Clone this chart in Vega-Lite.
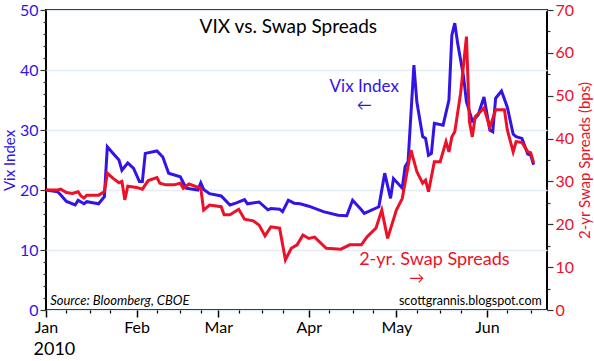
{
  "$schema": "https://vega.github.io/schema/vega-lite/v6.json",
  "width": 501,
  "height": 300,
  "autosize": {"type": "none"},
  "padding": {"left": 46, "top": 10, "right": 47, "bottom": 51},
  "background": "white",
  "config": {
    "font": "Lato",
    "view": {"stroke": "black", "strokeWidth": 2}
  },
  "datasets": {
    "vix": [
      {"date": "2010-01-01", "vix": 20.0},
      {"date": "2010-01-05", "vix": 19.7},
      {"date": "2010-01-06", "vix": 19.2},
      {"date": "2010-01-08", "vix": 18.1},
      {"date": "2010-01-11", "vix": 17.5},
      {"date": "2010-01-12", "vix": 18.3},
      {"date": "2010-01-14", "vix": 17.7},
      {"date": "2010-01-15", "vix": 18.05},
      {"date": "2010-01-18", "vix": 17.8},
      {"date": "2010-01-19", "vix": 17.7},
      {"date": "2010-01-21", "vix": 18.9},
      {"date": "2010-01-22", "vix": 27.2},
      {"date": "2010-01-24", "vix": 26.1},
      {"date": "2010-01-26", "vix": 25.0},
      {"date": "2010-01-27", "vix": 23.3},
      {"date": "2010-01-29", "vix": 24.5},
      {"date": "2010-01-31", "vix": 23.6},
      {"date": "2010-02-02", "vix": 21.4},
      {"date": "2010-02-03", "vix": 21.4},
      {"date": "2010-02-04", "vix": 26.1},
      {"date": "2010-02-08", "vix": 26.5},
      {"date": "2010-02-10", "vix": 25.5},
      {"date": "2010-02-12", "vix": 22.8},
      {"date": "2010-02-16", "vix": 22.2},
      {"date": "2010-02-18", "vix": 20.3},
      {"date": "2010-02-22", "vix": 20.0},
      {"date": "2010-02-23", "vix": 21.2},
      {"date": "2010-02-24", "vix": 20.1},
      {"date": "2010-02-26", "vix": 19.4},
      {"date": "2010-03-02", "vix": 19.0},
      {"date": "2010-03-05", "vix": 17.5},
      {"date": "2010-03-07", "vix": 17.8},
      {"date": "2010-03-10", "vix": 18.4},
      {"date": "2010-03-11", "vix": 17.7},
      {"date": "2010-03-15", "vix": 18.0},
      {"date": "2010-03-18", "vix": 16.7},
      {"date": "2010-03-19", "vix": 16.9},
      {"date": "2010-03-22", "vix": 16.8},
      {"date": "2010-03-23", "vix": 16.4},
      {"date": "2010-03-25", "vix": 18.3},
      {"date": "2010-03-27", "vix": 17.8},
      {"date": "2010-03-29", "vix": 17.7},
      {"date": "2010-04-01", "vix": 17.3},
      {"date": "2010-04-06", "vix": 16.4},
      {"date": "2010-04-11", "vix": 15.8},
      {"date": "2010-04-14", "vix": 15.7},
      {"date": "2010-04-16", "vix": 18.3},
      {"date": "2010-04-19", "vix": 16.7},
      {"date": "2010-04-20", "vix": 16.1},
      {"date": "2010-04-25", "vix": 17.2},
      {"date": "2010-04-27", "vix": 22.8},
      {"date": "2010-04-29", "vix": 18.6},
      {"date": "2010-04-30", "vix": 21.9},
      {"date": "2010-05-03", "vix": 20.3},
      {"date": "2010-05-04", "vix": 23.9},
      {"date": "2010-05-05", "vix": 24.7},
      {"date": "2010-05-07", "vix": 40.8},
      {"date": "2010-05-08", "vix": 34.7},
      {"date": "2010-05-10", "vix": 28.9},
      {"date": "2010-05-11", "vix": 28.6},
      {"date": "2010-05-12", "vix": 25.8},
      {"date": "2010-05-13", "vix": 26.1},
      {"date": "2010-05-14", "vix": 31.1},
      {"date": "2010-05-17", "vix": 30.8},
      {"date": "2010-05-19", "vix": 35.0},
      {"date": "2010-05-20", "vix": 45.8},
      {"date": "2010-05-21", "vix": 47.8},
      {"date": "2010-05-22", "vix": 44.4},
      {"date": "2010-05-24", "vix": 38.9},
      {"date": "2010-05-25", "vix": 34.7},
      {"date": "2010-05-27", "vix": 31.5},
      {"date": "2010-05-29", "vix": 32.5},
      {"date": "2010-05-31", "vix": 35.5},
      {"date": "2010-06-02", "vix": 30.0},
      {"date": "2010-06-03", "vix": 29.7},
      {"date": "2010-06-04", "vix": 35.3},
      {"date": "2010-06-06", "vix": 36.5},
      {"date": "2010-06-08", "vix": 33.8},
      {"date": "2010-06-10", "vix": 29.3},
      {"date": "2010-06-11", "vix": 28.9},
      {"date": "2010-06-13", "vix": 28.6},
      {"date": "2010-06-15", "vix": 26.0},
      {"date": "2010-06-16", "vix": 25.8},
      {"date": "2010-06-17", "vix": 24.2}
    ],
    "swap": [
      {"date": "2010-01-01", "swap": 28.0},
      {"date": "2010-01-05", "swap": 28.0},
      {"date": "2010-01-06", "swap": 28.2},
      {"date": "2010-01-08", "swap": 27.4},
      {"date": "2010-01-10", "swap": 27.2},
      {"date": "2010-01-12", "swap": 27.6},
      {"date": "2010-01-13", "swap": 26.6},
      {"date": "2010-01-14", "swap": 26.1},
      {"date": "2010-01-15", "swap": 26.8},
      {"date": "2010-01-19", "swap": 26.8},
      {"date": "2010-01-21", "swap": 27.6},
      {"date": "2010-01-22", "swap": 31.9},
      {"date": "2010-01-24", "swap": 30.7},
      {"date": "2010-01-26", "swap": 29.7},
      {"date": "2010-01-27", "swap": 30.0},
      {"date": "2010-01-28", "swap": 25.7},
      {"date": "2010-01-29", "swap": 28.9},
      {"date": "2010-02-01", "swap": 28.6},
      {"date": "2010-02-03", "swap": 28.2},
      {"date": "2010-02-05", "swap": 30.2},
      {"date": "2010-02-08", "swap": 30.9},
      {"date": "2010-02-09", "swap": 29.6},
      {"date": "2010-02-11", "swap": 29.2},
      {"date": "2010-02-14", "swap": 29.2},
      {"date": "2010-02-16", "swap": 29.6},
      {"date": "2010-02-17", "swap": 28.4},
      {"date": "2010-02-19", "swap": 29.4},
      {"date": "2010-02-23", "swap": 28.4},
      {"date": "2010-02-24", "swap": 23.3},
      {"date": "2010-02-26", "swap": 24.5},
      {"date": "2010-03-02", "swap": 24.1},
      {"date": "2010-03-03", "swap": 22.2},
      {"date": "2010-03-05", "swap": 22.2},
      {"date": "2010-03-08", "swap": 23.5},
      {"date": "2010-03-10", "swap": 21.2},
      {"date": "2010-03-13", "swap": 20.8},
      {"date": "2010-03-15", "swap": 19.8},
      {"date": "2010-03-17", "swap": 17.3},
      {"date": "2010-03-19", "swap": 19.4},
      {"date": "2010-03-22", "swap": 19.1},
      {"date": "2010-03-24", "swap": 11.7},
      {"date": "2010-03-26", "swap": 14.4},
      {"date": "2010-03-28", "swap": 15.2},
      {"date": "2010-03-30", "swap": 17.5},
      {"date": "2010-04-01", "swap": 16.7},
      {"date": "2010-04-03", "swap": 17.0},
      {"date": "2010-04-07", "swap": 14.4},
      {"date": "2010-04-12", "swap": 14.2},
      {"date": "2010-04-15", "swap": 15.2},
      {"date": "2010-04-19", "swap": 15.2},
      {"date": "2010-04-21", "swap": 17.1},
      {"date": "2010-04-24", "swap": 19.1},
      {"date": "2010-04-26", "swap": 23.3},
      {"date": "2010-04-28", "swap": 16.7},
      {"date": "2010-05-01", "swap": 23.3},
      {"date": "2010-05-03", "swap": 26.0},
      {"date": "2010-05-06", "swap": 37.3},
      {"date": "2010-05-08", "swap": 32.3},
      {"date": "2010-05-10", "swap": 29.6},
      {"date": "2010-05-11", "swap": 30.3},
      {"date": "2010-05-12", "swap": 27.6},
      {"date": "2010-05-14", "swap": 34.6},
      {"date": "2010-05-16", "swap": 34.6},
      {"date": "2010-05-18", "swap": 39.3},
      {"date": "2010-05-19", "swap": 36.9},
      {"date": "2010-05-20", "swap": 40.4},
      {"date": "2010-05-21", "swap": 41.6},
      {"date": "2010-05-23", "swap": 50.6},
      {"date": "2010-05-25", "swap": 63.8},
      {"date": "2010-05-26", "swap": 44.0},
      {"date": "2010-05-27", "swap": 40.4},
      {"date": "2010-05-28", "swap": 45.1},
      {"date": "2010-05-31", "swap": 47.1},
      {"date": "2010-06-02", "swap": 42.6},
      {"date": "2010-06-04", "swap": 46.7},
      {"date": "2010-06-07", "swap": 46.7},
      {"date": "2010-06-08", "swap": 42.0},
      {"date": "2010-06-10", "swap": 36.9},
      {"date": "2010-06-11", "swap": 39.3},
      {"date": "2010-06-13", "swap": 39.1},
      {"date": "2010-06-15", "swap": 36.9},
      {"date": "2010-06-16", "swap": 36.7},
      {"date": "2010-06-17", "swap": 34.4}
    ]
  },
  "layer": [
    {
      "data": {"name": "vix"},
      "mark": {"type": "line", "color": "#3214e6", "strokeWidth": 3},
      "encoding": {
        "x": {
          "field": "date",
          "type": "temporal",
          "scale": {
            "type": "utc",
            "domain": [
              {"year": 2010, "month": 1, "date": 1, "utc": true},
              {"year": 2010, "month": 6, "date": 21, "hours": 14, "utc": true}
            ]
          },
          "axis": {
            "orient": "bottom",
            "values": [1262304000000, 1264982400000, 1267401600000, 1270080000000, 1272672000000, 1275350400000],
            "format": "%b",
            "labelOverlap": false,
            "labelFlush": false,
            "labelFontSize": 16,
            "labelColor": "black",
            "labelPadding": 2,
            "tickSize": 7,
            "tickColor": "black",
            "tickWidth": 1.5,
            "domain": false,
            "grid": false,
            "title": "2010",
            "titleFontSize": 18,
            "titleFontWeight": "normal",
            "titleColor": "black",
            "titleAnchor": "start",
            "titleAlign": "left",
            "titleBaseline": "alphabetic",
            "titleX": -13,
            "titleY": 44
          }
        },
        "y": {
          "field": "vix",
          "type": "quantitative",
          "scale": {"domain": [0, 50], "nice": false},
          "axis": {
            "orient": "left",
            "values": [0, 10, 20, 30, 40, 50],
            "labelColor": "#3214e6",
            "labelFontSize": 16,
            "labelPadding": 2,
            "tickSize": 6,
            "tickColor": "#333333",
            "tickWidth": 1.2,
            "domain": false,
            "grid": true,
            "gridColor": "#e4ecf4",
            "gridWidth": 1.5,
            "title": "Vix Index",
            "titleColor": "#3214e6",
            "titleFontSize": 15,
            "titleFontWeight": "normal",
            "titlePadding": 2
          }
        }
      }
    },
    {
      "data": {"name": "swap"},
      "mark": {"type": "line", "color": "#ec1028", "strokeWidth": 3},
      "encoding": {
        "x": {
          "field": "date",
          "type": "temporal",
          "axis": {
            "orient": "bottom",
            "values": [1262908800000, 1263600000000, 1264204800000, 1265587200000, 1266278400000, 1266883200000, 1268006400000, 1268697600000, 1269302400000, 1270684800000, 1271376000000, 1271980800000, 1273276800000, 1273968000000, 1274572800000, 1275955200000, 1276646400000],
            "labels": false,
            "tickSize": 3,
            "tickColor": "black",
            "tickWidth": 1.2,
            "domain": false,
            "grid": false,
            "title": null
          }
        },
        "y": {
          "field": "swap",
          "type": "quantitative",
          "scale": {"domain": [0, 70], "nice": false},
          "axis": {
            "orient": "right",
            "values": [0, 10, 20, 30, 40, 50, 60, 70],
            "labelColor": "#ec1028",
            "labelFontSize": 16,
            "labelPadding": 2,
            "tickSize": 6,
            "tickColor": "#333333",
            "tickWidth": 1.2,
            "domain": false,
            "grid": false,
            "title": "2-yr Swap Spreads (bps)",
            "titleColor": "#ec1028",
            "titleFontSize": 15,
            "titleFontWeight": "normal",
            "titleAngle": 270,
            "titleBaseline": "top",
            "titlePadding": 4
          }
        }
      }
    },
    {
      "data": {"values": [{"date": "2010-03-25", "v": 46.2, "label": "VIX vs. Swap Spreads"}]},
      "mark": {"type": "text", "fontSize": 19, "color": "black", "align": "center", "baseline": "alphabetic"},
      "encoding": {
        "x": {"field": "date", "type": "temporal", "axis": null},
        "y": {"field": "v", "type": "quantitative", "scale": {"domain": [0, 50], "nice": false}, "axis": null},
        "text": {"field": "label"}
      }
    },
    {
      "data": {"values": [{"date": "2010-04-20", "v": 36.3, "label": "Vix Index"}]},
      "mark": {"type": "text", "fontSize": 17, "color": "#3214e6", "align": "center", "baseline": "alphabetic"},
      "encoding": {
        "x": {"field": "date", "type": "temporal", "axis": null},
        "y": {"field": "v", "type": "quantitative", "scale": {"domain": [0, 50], "nice": false}, "axis": null},
        "text": {"field": "label"}
      }
    },
    {
      "data": {"values": [{"date": "2010-04-20", "v": 34.2, "label": "←"}]},
      "mark": {"type": "text", "fontSize": 15, "color": "#3214e6", "align": "center", "baseline": "middle"},
      "encoding": {
        "x": {"field": "date", "type": "temporal", "axis": null},
        "y": {"field": "v", "type": "quantitative", "scale": {"domain": [0, 50], "nice": false}, "axis": null},
        "text": {"field": "label"}
      }
    },
    {
      "data": {"values": [{"date": "2010-05-14", "v": 10.5, "label": "2-yr. Swap Spreads"}]},
      "mark": {"type": "text", "fontSize": 18, "color": "#ec1028", "align": "center", "baseline": "alphabetic"},
      "encoding": {
        "x": {"field": "date", "type": "temporal", "axis": null},
        "y": {
          "field": "v",
          "type": "quantitative",
          "scale": {"domain": [0, 70], "nice": false},
          "axis": {
            "orient": "right",
            "values": [5, 15, 25, 35, 45, 55, 65],
            "labels": false,
            "tickSize": 3,
            "tickColor": "#333333",
            "tickWidth": 1.2,
            "domain": false,
            "grid": false,
            "title": null
          }
        },
        "text": {"field": "label"}
      }
    },
    {
      "data": {"values": [{"date": "2010-05-08", "v": 7.4, "label": "→"}]},
      "mark": {"type": "text", "fontSize": 15, "color": "#ec1028", "align": "center", "baseline": "middle"},
      "encoding": {
        "x": {"field": "date", "type": "temporal", "axis": null},
        "y": {"field": "v", "type": "quantitative", "scale": {"domain": [0, 70], "nice": false}, "axis": null},
        "text": {"field": "label"}
      }
    },
    {
      "data": {"values": [{"date": "2010-01-02T10:00:00Z", "v": 0.8, "label": "Source: Bloomberg, CBOE"}]},
      "mark": {"type": "text", "fontSize": 13, "fontStyle": "italic", "color": "black", "align": "left", "baseline": "alphabetic"},
      "encoding": {
        "x": {"field": "date", "type": "temporal", "axis": null},
        "y": {
          "field": "v",
          "type": "quantitative",
          "scale": {"domain": [0, 50], "nice": false},
          "axis": {
            "orient": "left",
            "values": [2, 4, 6, 8, 12, 14, 16, 18, 22, 24, 26, 28, 32, 34, 36, 38, 42, 44, 46, 48],
            "labels": false,
            "tickSize": 3,
            "tickColor": "#333333",
            "tickWidth": 1.2,
            "domain": false,
            "grid": false,
            "title": null
          }
        },
        "text": {"field": "label"}
      }
    },
    {
      "data": {"values": [{"date": "2010-06-19T19:00:00Z", "v": 0.8, "label": "scottgrannis.blogspot.com"}]},
      "mark": {"type": "text", "fontSize": 12.5, "color": "black", "align": "right", "baseline": "alphabetic"},
      "encoding": {
        "x": {"field": "date", "type": "temporal", "axis": null},
        "y": {"field": "v", "type": "quantitative", "scale": {"domain": [0, 50], "nice": false}, "axis": null},
        "text": {"field": "label"}
      }
    }
  ],
  "resolve": {"scale": {"y": "independent"}, "axis": {"y": "independent", "x": "independent"}}
}
